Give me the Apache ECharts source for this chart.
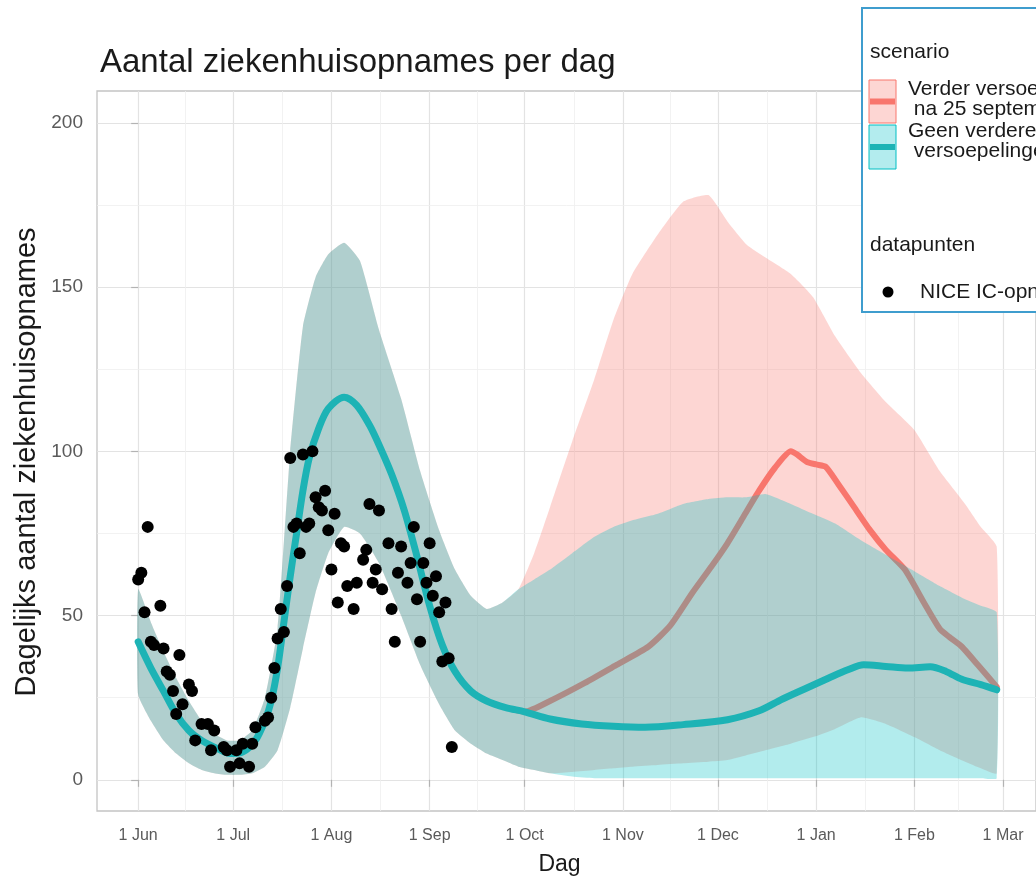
<!DOCTYPE html>
<html>
<head>
<meta charset="utf-8">
<script src="https://cdn.jsdelivr.net/npm/echarts@6.0.0/dist/echarts.min.js"></script>
<style>
  html, body { margin: 0; padding: 0; background: #fff; }
  #chart { width: 1036px; height: 883px; }
</style>
</head>
<body>
<div id="chart"></div>
<script>
// x = dagen sinds 1 juni 2020
const monthDays = [0, 30, 61, 92, 122, 153, 183, 214, 245, 273];
const monthLabels = ['1 Jun', '1 Jul', '1 Aug', '1 Sep', '1 Oct', '1 Nov', '1 Dec', '1 Jan', '1 Feb', '1 Mar'];
const minorDays = [15, 45.5, 76.5, 107, 137.5, 168, 198.5, 229.5, 259];
const yTicks = [0, 50, 100, 150, 200];
const yMinor = [25, 75, 125, 175];

// onzekerheidsbanden (beide scenario's op dezelfde dagen)
const ribbonDays = [0, 4, 8, 12, 16, 20, 24, 28, 32, 36, 40, 44, 48, 52, 56, 60, 65, 70, 76, 83, 89, 95, 100, 105, 110, 115, 120, 125, 130, 137, 144, 150, 156, 164, 172, 180, 186, 192, 198, 206, 213, 220, 228, 236, 245, 253, 261, 266, 271];
const geenLow  = [26, 18, 12, 8, 5, 3, 2, 1.5, 1.5, 2, 4, 9, 22, 40, 57, 69, 77, 75, 66, 50, 35, 23, 15, 11, 8, 6, 4, 3, 2, 1, 0.5, 0.5, 0.5, 0.5, 0.5, 0.5, 0.5, 0.5, 0.5, 0.5, 0.5, 0.5, 0.5, 0.5, 0.5, 0.5, 0.5, 0.5, 0.5];
const geenHigh = [58, 48, 39, 31, 24, 18, 14, 12, 12, 15, 25, 46, 100, 138, 153, 160, 163.5, 158, 137, 116, 94, 76, 64, 56, 52, 54, 58, 61, 64, 69, 74, 77, 79, 81, 84, 85.5, 86, 86, 87, 84, 81, 78, 73, 68.5, 63.5, 59, 55, 53, 51];
const verderLow  = [26, 18, 12, 8, 5, 3, 2, 1.5, 1.5, 2, 4, 9, 22, 40, 57, 69, 77, 75, 66, 50, 35, 23, 15, 11, 8, 6, 4, 3, 2, 2.4, 3, 3.5, 4, 4.5, 5, 5.5, 6, 7.5, 9, 11, 13, 15.5, 19, 17, 13, 9, 5.5, 3.5, 2];
const verderHigh = [58, 48, 39, 31, 24, 18, 14, 12, 12, 15, 25, 46, 100, 138, 153, 160, 163.5, 158, 137, 116, 94, 76, 64, 56, 52, 54, 58, 69, 83, 103, 122, 140, 154, 166, 176, 178, 170, 163, 159, 154, 147, 135, 124, 115, 106.5, 94, 84, 77, 71];

// mediane lijnen
const geenDays = [0, 4, 8, 12, 16, 20, 25, 29, 33, 37, 40, 42, 44, 46, 48, 50, 52, 54, 57, 60, 65, 69, 73, 76, 80, 84, 88, 92, 96, 100, 105, 110, 116, 122, 130, 140, 150, 160, 172, 186, 196, 203, 210, 218, 224, 229, 236, 243, 250, 255, 260, 266, 271];
const geenLine = [42, 34, 27, 20, 15, 12, 9.5, 8, 8.5, 12, 18, 24, 34, 48, 62, 75, 88, 98, 107, 113, 116.5, 114, 108, 102, 93, 82, 68, 53, 41, 33, 27, 24, 22, 20.7, 18.5, 17, 16.3, 16, 16.8, 18.3, 21, 24.4, 27.5, 31, 33.5, 35, 34.5, 34, 34.4, 33, 30.6, 29, 27.4];
const verderDays = [118, 122, 130, 141, 151, 161, 168, 175, 181, 186, 191, 196, 201, 206, 208, 211, 214, 217, 221, 226, 231, 236, 242, 248, 253, 256, 260, 265, 271];
const verderLine = [21.5, 20.7, 24, 29.5, 35, 40.5, 47, 57, 65, 72, 80, 88, 95, 100, 99, 96.8, 96, 95.3, 90, 83, 76, 70, 64, 54, 46, 43.5, 40.5, 35, 28.3];

// NICE datapunten
const niceDays = [0, 1, 2, 3, 4, 5, 7, 8, 9, 10, 11, 12, 13, 14, 16, 17, 18, 20, 22, 23, 24, 27, 28, 29, 31, 32, 33, 35, 36, 37, 40, 41, 42, 43, 44, 45, 46, 47, 48, 49, 50, 51, 52, 53, 54, 55, 56, 57, 58, 59, 60, 61, 62, 63, 64, 65, 66, 68, 69, 71, 72, 73, 74, 75, 76, 77, 79, 80, 81, 82, 83, 85, 86, 87, 88, 89, 90, 91, 92, 93, 94, 95, 96, 97, 98, 99];
const niceVals = [61, 63, 51, 77, 42, 41, 53, 40, 33, 32, 27, 20, 38, 23, 29, 27, 12, 17, 17, 9, 15, 10, 9, 4, 9, 5, 11, 4, 11, 16, 18, 19, 25, 34, 43, 52, 45, 59, 98, 77, 78, 69, 99, 77, 78, 100, 86, 83, 82, 88, 76, 64, 81, 54, 72, 71, 59, 52, 60, 67, 70, 84, 60, 64, 82, 58, 72, 52, 42, 63, 71, 60, 66, 77, 55, 42, 66, 60, 72, 56, 62, 51, 36, 54, 37, 10];

const RED = '#F8766D';
const CYAN = '#00BFC4';
const TEAL_LINE = '#1db3b5';
const FONT = 'Liberation Sans';

const pairs = (xs, ys) => xs.map((x, i) => [x, ys[i]]);

// band tussen low en high als één polygoon, via de schaal van de grafiek
function ribbon(low, high, color, z) {
  return {
    type: 'custom',
    silent: true,
    clip: true,
    z: z,
    data: ribbonDays.map((d, i) => [d, low[i], high[i]]),
    renderItem: (params, api) => {
      if (params.dataIndex !== 0) return;
      const top = ribbonDays.map((d, i) => api.coord([d, high[i]]));
      const bottom = ribbonDays.map((d, i) => api.coord([d, low[i]])).reverse();
      return {
        type: 'polygon',
        shape: { points: top.concat(bottom), smooth: 0.15 },
        style: { fill: color, opacity: 0.3 }
      };
    }
  };
}

const chart = echarts.init(document.getElementById('chart'));

const legendText = (x, y, text, size) => ({
  type: 'text', x: x, y: y, z: 100,
  style: { text: text, fontSize: size, fontFamily: FONT, fill: '#1a1a1a', verticalAlign: 'middle' }
});

chart.setOption({
  backgroundColor: '#fff',
  animation: false,
  textStyle: { fontFamily: FONT },
  title: {
    text: 'Aantal ziekenhuisopnames per dag',
    left: 95,
    top: 41,
    textStyle: { fontSize: 33, fontWeight: 'normal', color: '#1a1a1a', fontFamily: FONT }
  },
  grid: {
    left: 97,
    right: 0,
    top: 91,
    bottom: 72,
    show: true,
    borderColor: '#c4c4c4',
    borderWidth: 1.3,
    backgroundColor: 'transparent'
  },
  xAxis: {
    type: 'value',
    min: -13,
    max: 283.4,
    axisLine: { show: false },
    axisTick: { show: true, customValues: monthDays, length: 7, lineStyle: { color: '#b3b3b3', width: 1.2 } },
    axisLabel: {
      customValues: monthDays,
      formatter: (v) => monthLabels[monthDays.indexOf(v)],
      fontSize: 16,
      color: '#5a5a5a',
      margin: 17
    },
    splitLine: { show: true, lineStyle: { color: '#e3e3e3', width: 1.2 } },
    name: 'Dag',
    nameLocation: 'middle',
    nameGap: 42,
    nameTextStyle: { fontSize: 23, color: '#1a1a1a', padding: [0, 14, 0, 0] }
  },
  yAxis: {
    type: 'value',
    min: -9.5,
    max: 209.7,
    axisLine: { show: false },
    axisTick: { show: true, customValues: yTicks, length: 7, lineStyle: { color: '#b3b3b3', width: 1.2 } },
    axisLabel: { customValues: yTicks, fontSize: 19, color: '#5a5a5a', margin: 14 },
    splitLine: { show: true, lineStyle: { color: '#e3e3e3', width: 1.2 } }
  },
  series: [
    ribbon(verderLow, verderHigh, RED, 2),
    {
      type: 'line',
      z: 3,
      data: pairs(verderDays, verderLine),
      symbol: 'none',
      smooth: 0.2,
      silent: true,
      lineStyle: { color: RED, width: 6, cap: 'round', join: 'round' },
      markLine: {
        silent: true,
        symbol: 'none',
        z: 1,
        animation: false,
        label: { show: false },
        lineStyle: { color: '#efefef', width: 0.8, type: 'solid' },
        data: [
          ...minorDays.map((d) => ({ xAxis: d })),
          ...yMinor.map((v) => ({ yAxis: v }))
        ]
      }
    },
    ribbon(geenLow, geenHigh, CYAN, 4),
    {
      type: 'line',
      z: 5,
      data: pairs(geenDays, geenLine),
      symbol: 'none',
      smooth: 0.3,
      silent: true,
      lineStyle: { color: TEAL_LINE, width: 7, cap: 'round', join: 'round' }
    },
    {
      type: 'scatter',
      z: 6,
      data: pairs(niceDays, niceVals),
      symbolSize: 12,
      silent: true,
      itemStyle: { color: '#000', opacity: 1 }
    }
  ],
  graphic: [
    {
      type: 'text', x: 27, y: 462, rotation: Math.PI / 2,
      style: { text: 'Dagelijks aantal ziekenhuisopnames', fontSize: 29, fontFamily: FONT, fill: '#1a1a1a', align: 'center', verticalAlign: 'middle' }
    },
    { type: 'rect', z: 100, shape: { x: 862, y: 8, width: 200, height: 304 }, style: { fill: '#fff', stroke: '#3f9dce', lineWidth: 2 } },
    legendText(870, 52, 'scenario', 21),
    { type: 'rect', z: 100, shape: { x: 869, y: 80, width: 27, height: 43 }, style: { fill: '#fdd6d3', stroke: RED, lineWidth: 1 } },
    { type: 'line', z: 100, shape: { x1: 870, y1: 101.5, x2: 895, y2: 101.5 }, style: { stroke: RED, lineWidth: 6 } },
    { type: 'rect', z: 100, shape: { x: 869, y: 125, width: 27, height: 44 }, style: { fill: '#b3ecee', stroke: CYAN, lineWidth: 1 } },
    { type: 'line', z: 100, shape: { x1: 870, y1: 147, x2: 895, y2: 147 }, style: { stroke: TEAL_LINE, lineWidth: 6 } },
    legendText(908, 89, 'Verder versoepelen', 21),
    legendText(908, 109, ' na 25 september', 21),
    legendText(908, 131, 'Geen verdere', 21),
    legendText(908, 151, ' versoepelingen', 21),
    legendText(870, 245, 'datapunten', 21),
    { type: 'circle', z: 100, shape: { cx: 888, cy: 292, r: 5.5 }, style: { fill: '#000' } },
    legendText(920, 292, 'NICE IC-opnames', 21)
  ]
});
</script>
</body>
</html>
